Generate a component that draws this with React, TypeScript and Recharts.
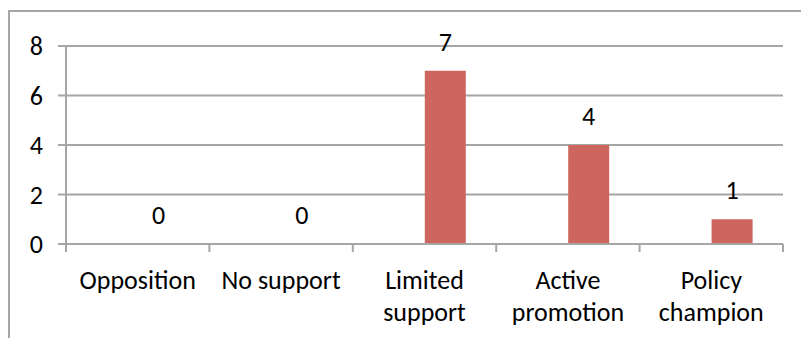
import React from "react";
import { BarChart, Bar, XAxis, YAxis, CartesianGrid, LabelList } from "recharts";

const categories = ["Opposition", "No support", "Limited support", "Active promotion", "Policy champion"];
const tickLines = [["Opposition"], ["No support"], ["Limited", "support"], ["Active", "promotion"], ["Policy", "champion"]];
const counts = [0, 0, 7, 4, 1];
// empty first series, keeps the bars in the right half of each slot
const blank = [null, null, null, null, null];
const yTicks = [0, 2, 4, 6, 8];

const data = categories.map((name, i) => ({ name, blank: blank[i], count: counts[i] }));

const FONT = "Calibri, Carlito, Lato, sans-serif";
const FONT_SIZE = 26;
const GRID = "#A6A6A6";
const BAR = "#CD665F";

const W = 801;
const H = 330;
const MARGIN = { top: 38, right: 26, bottom: 34, left: 8 };
const AXIS_W = 50;
const AXIS_H = 60;
const PLOT_H = H - MARGIN.top - MARGIN.bottom - AXIS_H;
const AXIS_Y = MARGIN.top + PLOT_H;

function CategoryTick({ x, payload }: { x?: number; payload?: any }) {
  const half = payload?.offset ?? (W - MARGIN.left - MARGIN.right - AXIS_W) / categories.length / 2;
  const lines = tickLines[payload.index] || [String(payload.value)];
  const last = payload.index === categories.length - 1;
  return (
    <g>
      <line x1={x! - half} x2={x! - half} y1={AXIS_Y} y2={AXIS_Y + 8} stroke={GRID} strokeWidth={2} />
      {last && <line x1={x! + half} x2={x! + half} y1={AXIS_Y} y2={AXIS_Y + 8} stroke={GRID} strokeWidth={2} />}
      <text x={x} y={AXIS_Y} textAnchor="middle" fill="#000" fontSize={FONT_SIZE} fontFamily={FONT}>
        {lines.map((l, i) => (
          <tspan key={i} x={x} y={AXIS_Y + 45 + i * 32}>
            {l}
          </tspan>
        ))}
      </text>
    </g>
  );
}

// value label above a bar, drawn for zero-height bars too
function ValueLabel(props: any) {
  const { x, y, width, value } = props;
  if (value == null) return null;
  return (
    <text x={x + width / 2} y={y - 20} textAnchor="middle" fill="#000" fontSize={FONT_SIZE} fontFamily={FONT}>
      {String(value)}
    </text>
  );
}

export default function App() {
  return (
    <div style={{ position: "relative", width: W, height: H, overflow: "hidden", background: "#fff" }}>
      <div
        style={{
          position: "absolute",
          left: 0,
          top: 2,
          width: W + 20,
          height: H + 20,
          borderTop: `2px solid ${GRID}`,
          borderLeft: `2px solid ${GRID}`,
          boxSizing: "border-box",
        }}
      />
      <BarChart
        width={W}
        height={H}
        data={data}
        margin={MARGIN}
        barGap={0}
        barSize={41}
        style={{ position: "absolute", left: 0, top: 0 }}
      >
        <CartesianGrid horizontal vertical={false} stroke={GRID} strokeWidth={2} />
        <XAxis
          dataKey="name"
          height={AXIS_H}
          axisLine={{ stroke: GRID, strokeWidth: 2 }}
          tickLine={false}
          tickSize={0}
          tickMargin={0}
          interval={0}
          tick={<CategoryTick />}
        />
        <YAxis
          width={AXIS_W}
          domain={[0, 8]}
          ticks={yTicks}
          axisLine={{ stroke: GRID, strokeWidth: 2 }}
          tickLine={{ stroke: GRID, strokeWidth: 2 }}
          tickSize={8}
          tickMargin={15}
          tick={{ fill: "#000", fontSize: FONT_SIZE, fontFamily: FONT }}
        />
        <Bar dataKey="blank" fill={BAR} isAnimationActive={false} />
        <Bar dataKey="count" fill={BAR} minPointSize={0.01} isAnimationActive={false}>
          <LabelList dataKey="count" content={<ValueLabel />} />
        </Bar>
      </BarChart>
    </div>
  );
}
